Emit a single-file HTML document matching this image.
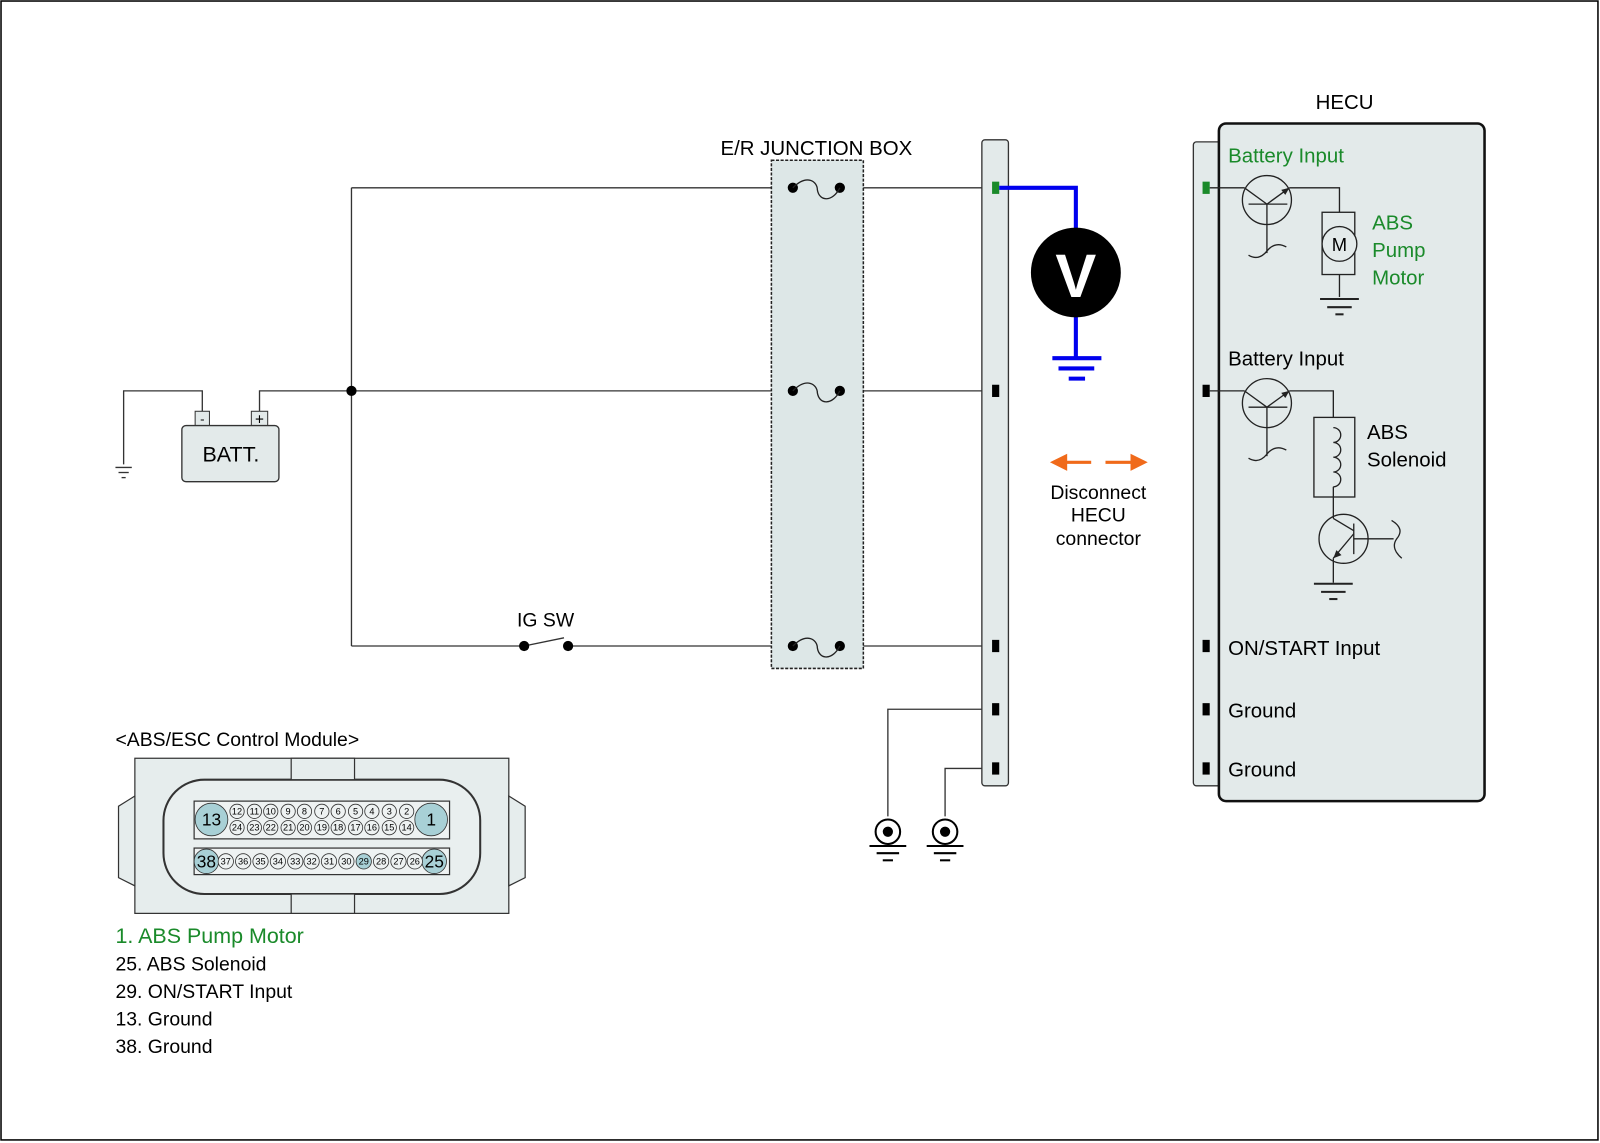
<!DOCTYPE html>
<html><head><meta charset="utf-8"><style>
html,body{margin:0;padding:0;background:#fff}
svg{display:block}
text{font-family:"Liberation Sans",Arial,sans-serif}
</style></head><body>
<svg width="1600" height="1143" viewBox="0 0 1566 1120" preserveAspectRatio="none" xmlns="http://www.w3.org/2000/svg">
<rect x="1" y="1" width="1563" height="1116" fill="#fff" stroke="#000" stroke-width="1.5"/>
<g stroke="#333" stroke-width="1.3" fill="none">
<polyline points="198,403 198,383 121,383 121,455"/>
<polyline points="254,403 254,383 975,383"/>
<line x1="344" y1="184" x2="344" y2="633"/>
<line x1="344" y1="184" x2="975" y2="184"/>
<line x1="344" y1="633" x2="513" y2="633"/>
<line x1="556" y1="633" x2="975" y2="633"/>
<line x1="513" y1="633" x2="552" y2="625"/>
<polyline points="975,695 869,695 869,800"/>
<polyline points="975,753 925,753 925,800"/>
</g>
<g stroke="#333" stroke-width="1.3">
<line x1="113" y1="458" x2="129" y2="458"/><line x1="116" y1="463" x2="126" y2="463"/><line x1="119" y1="468" x2="123" y2="468"/>
</g>
<rect x="191" y="403" width="14" height="14" fill="#e3eaea" stroke="#333"/>
<text x="198" y="415" font-size="13" text-anchor="middle">-</text>
<rect x="246" y="403" width="16" height="14" fill="#e3eaea" stroke="#333"/>
<text x="254" y="416" font-size="15" text-anchor="middle">+</text>
<rect x="178" y="417" width="95" height="55" rx="4" fill="#e3eaea" stroke="#333" stroke-width="1.3"/>
<text x="226" y="452" font-size="21" text-anchor="middle">BATT.</text>
<text x="534" y="614" font-size="19" text-anchor="middle">IG SW</text>
<circle cx="513" cy="633" r="5" fill="#000"/><circle cx="556" cy="633" r="5" fill="#000"/>
<rect x="755" y="157" width="90" height="498" fill="#dde7e7" stroke="#222" stroke-width="1.5" stroke-dasharray="3,1.5"/>
<text x="799" y="152" font-size="20" text-anchor="middle">E/R JUNCTION BOX</text>
<g fill="#000">
<circle cx="776" cy="184" r="5"/><circle cx="822" cy="184" r="5"/>
<circle cx="776" cy="383" r="5"/><circle cx="822" cy="383" r="5"/>
<circle cx="776" cy="633" r="5"/><circle cx="822" cy="633" r="5"/>
<circle cx="344" cy="383" r="5"/>
</g>
<g stroke="#222" stroke-width="1.3" fill="none">
<path d="M776,184 C790,170 800,178 800,186 C802,198 815,198 822,184"/>
<path d="M776,383 C790,369 800,377 800,385 C802,397 815,397 822,383"/>
<path d="M776,633 C790,619 800,627 800,635 C802,647 815,647 822,633"/>
</g>
<rect x="961" y="137" width="26" height="633" rx="3" fill="#e3eaea" stroke="#333" stroke-width="1.3"/>
<rect x="971" y="178" width="7" height="12" fill="#1a8a2a"/>
<rect x="971" y="377" width="7" height="12" fill="#000"/>
<rect x="971" y="627" width="7" height="12" fill="#000"/>
<rect x="971" y="689" width="7" height="12" fill="#000"/>
<rect x="971" y="747" width="7" height="12" fill="#000"/>
<polyline points="978,184 1053,184 1053,350" fill="none" stroke="#0000ee" stroke-width="4"/>
<circle cx="1053" cy="267" r="44" fill="#000"/>
<text x="1053" y="291" font-size="60" font-weight="bold" fill="#fff" text-anchor="middle">V</text>
<g stroke="#0000ee" stroke-width="4"><line x1="1030" y1="351" x2="1078" y2="351"/><line x1="1036" y1="361" x2="1071" y2="361"/><line x1="1046" y1="371" x2="1062" y2="371"/></g>
<g>
<circle cx="869" cy="815" r="12" fill="#fff" stroke="#000" stroke-width="2"/><circle cx="869" cy="815" r="5" fill="#000"/>
<line x1="851" y1="829" x2="887" y2="829" stroke="#000" stroke-width="2"/><line x1="858" y1="836" x2="880" y2="836" stroke="#000" stroke-width="2"/><line x1="864" y1="843" x2="874" y2="843" stroke="#000" stroke-width="2"/>
<circle cx="925" cy="815" r="12" fill="#fff" stroke="#000" stroke-width="2"/><circle cx="925" cy="815" r="5" fill="#000"/>
<line x1="907" y1="829" x2="943" y2="829" stroke="#000" stroke-width="2"/><line x1="914" y1="836" x2="936" y2="836" stroke="#000" stroke-width="2"/><line x1="920" y1="843" x2="930" y2="843" stroke="#000" stroke-width="2"/>
</g>
<g stroke="#f06a1a" stroke-width="3" fill="#f06a1a">
<line x1="1040" y1="453" x2="1068" y2="453"/><polygon points="1031,453 1043,447 1043,459"/>
<line x1="1082" y1="453" x2="1110" y2="453"/><polygon points="1120,453 1108,447 1108,459"/>
</g>
<text font-size="19" text-anchor="middle"><tspan x="1075" y="489">Disconnect</tspan><tspan x="1075" y="511">HECU</tspan><tspan x="1075" y="534">connector</tspan></text>
<text x="1316" y="107" font-size="20" text-anchor="middle">HECU</text>
<rect x="1168" y="139" width="30" height="631" rx="3" fill="#e3eaea" stroke="#333" stroke-width="1.3"/>
<rect x="1193" y="121" width="260" height="664" rx="7" fill="#e3eaea" stroke="#111" stroke-width="2.5"/>
<rect x="1177" y="178" width="7" height="12" fill="#1a8a2a"/>
<rect x="1177" y="377" width="7" height="12" fill="#000"/>
<rect x="1177" y="627" width="7" height="12" fill="#000"/>
<rect x="1177" y="689" width="7" height="12" fill="#000"/>
<rect x="1177" y="747" width="7" height="12" fill="#000"/>
<g font-size="20">
<text x="1202" y="159" fill="#1a8a2a">Battery Input</text>
<text x="1343" y="225" fill="#1a8a2a">ABS</text><text x="1343" y="252" fill="#1a8a2a">Pump</text><text x="1343" y="279" fill="#1a8a2a">Motor</text>
<text x="1202" y="358">Battery Input</text>
<text x="1338" y="430">ABS</text><text x="1338" y="457">Solenoid</text>
<text x="1202" y="642">ON/START Input</text>
<text x="1202" y="703">Ground</text>
<text x="1202" y="761">Ground</text>
</g>
<g stroke="#222" stroke-width="1.3" fill="none">
<line x1="1184" y1="184" x2="1218" y2="184"/>
<circle cx="1240" cy="196" r="24"/>
<line x1="1218" y1="184" x2="1240" y2="200"/><line x1="1240" y1="200" x2="1262" y2="184"/>
<line x1="1222" y1="200" x2="1260" y2="200"/><line x1="1240" y1="200" x2="1240" y2="248"/>
<path d="M1222,250 Q1232,256 1240,246 Q1248,236 1259,242"/>
<polyline points="1262,184 1311,184 1311,208"/>
<rect x="1294" y="208" width="32" height="61"/>
<circle cx="1311" cy="239" r="17" fill="#e3eaea"/>
<line x1="1311" y1="269" x2="1311" y2="291"/>
<line x1="1184" y1="383" x2="1218" y2="383"/>
<circle cx="1240" cy="395" r="24"/>
<line x1="1218" y1="383" x2="1240" y2="399"/><line x1="1240" y1="399" x2="1262" y2="383"/>
<line x1="1222" y1="399" x2="1260" y2="399"/><line x1="1240" y1="399" x2="1240" y2="447"/>
<path d="M1222,449 Q1232,455 1240,445 Q1248,435 1259,441"/>
<polyline points="1262,383 1305,383 1305,409"/>
<rect x="1286" y="409" width="40" height="78"/>
<path d="M1305,419 a5,5 0 0 1 0,14.5 a5,5 0 0 1 0,14.5 a5,5 0 0 1 0,14.5 a5,5 0 0 1 0,14.5"/>
<line x1="1305" y1="477" x2="1305" y2="508"/>
<circle cx="1315" cy="528" r="24"/>
<line x1="1325" y1="513" x2="1325" y2="543"/>
<line x1="1325" y1="528" x2="1364" y2="528"/>
<path d="M1362,510 C1372,516 1372,522 1367,528 C1362,535 1366,542 1372,547"/>
<line x1="1325" y1="523" x2="1305" y2="547"/>
<line x1="1305" y1="508" x2="1325" y2="520"/>
<line x1="1305" y1="547" x2="1305" y2="571"/>
</g>
<text x="1311" y="246" font-size="18" text-anchor="middle">M</text>
<g fill="#222"><polygon points="1262,184 1254,186 1258,191"/><polygon points="1262,383 1254,385 1258,390"/><polygon points="1305,547 1308,539 1313,544"/></g>
<g stroke="#222" stroke-width="2">
<line x1="1292" y1="293" x2="1330" y2="293"/><line x1="1299" y1="301" x2="1323" y2="301"/><line x1="1307" y1="308" x2="1315" y2="308"/>
<line x1="1286" y1="572" x2="1324" y2="572"/><line x1="1293" y1="580" x2="1317" y2="580"/><line x1="1301" y1="587" x2="1309" y2="587"/>
</g>
<g stroke="#333" stroke-width="1.2" fill="#e6eded">
<rect x="132" y="743" width="366" height="152"/>
<path d="M132,780 L116,790 L116,860 L132,868 Z"/><path d="M498,780 L514,790 L514,860 L498,868 Z"/>
<rect x="160" y="764" width="310" height="112" rx="40" fill="#e9efef" stroke-width="2"/>
<rect x="285" y="743" width="62" height="21"/><rect x="285" y="876" width="62" height="19"/>
<rect x="190" y="785" width="250" height="37" fill="#eef2f2"/>
<rect x="190" y="831" width="250" height="26" fill="#eef2f2"/>
</g>
<g stroke="#333" stroke-width="0.8" font-size="11" text-anchor="middle">
<circle cx="207" cy="803" r="16" fill="#a8d0d6"/><circle cx="422" cy="803" r="16" fill="#a8d0d6"/>
<circle cx="202" cy="844" r="12" fill="#a8d0d6"/><circle cx="425" cy="844" r="12" fill="#a8d0d6"/>
</g>
<g fill="#eef2f2" stroke="#333" stroke-width="0.8">
<circle cx="232" cy="795" r="7"/><circle cx="249" cy="795" r="7"/><circle cx="265" cy="795" r="7"/><circle cx="282" cy="795" r="7"/><circle cx="298" cy="795" r="7"/><circle cx="315" cy="795" r="7"/><circle cx="331" cy="795" r="7"/><circle cx="348" cy="795" r="7"/><circle cx="364" cy="795" r="7"/><circle cx="381" cy="795" r="7"/><circle cx="398" cy="795" r="7"/>
<circle cx="232" cy="811" r="7"/><circle cx="249" cy="811" r="7"/><circle cx="265" cy="811" r="7"/><circle cx="282" cy="811" r="7"/><circle cx="298" cy="811" r="7"/><circle cx="315" cy="811" r="7"/><circle cx="331" cy="811" r="7"/><circle cx="348" cy="811" r="7"/><circle cx="364" cy="811" r="7"/><circle cx="381" cy="811" r="7"/><circle cx="398" cy="811" r="7"/>
<circle cx="221" cy="844" r="7.5"/><circle cx="238" cy="844" r="7.5"/><circle cx="255" cy="844" r="7.5"/><circle cx="272" cy="844" r="7.5"/><circle cx="289" cy="844" r="7.5"/><circle cx="305" cy="844" r="7.5"/><circle cx="322" cy="844" r="7.5"/><circle cx="339" cy="844" r="7.5"/><circle cx="356" cy="844" r="7.5" fill="#a8d0d6"/><circle cx="373" cy="844" r="7.5"/><circle cx="390" cy="844" r="7.5"/><circle cx="406" cy="844" r="7.5"/>
</g>
<g font-size="9" text-anchor="middle">
<text x="232" y="798">12</text><text x="249" y="798">11</text><text x="265" y="798">10</text><text x="282" y="798">9</text><text x="298" y="798">8</text><text x="315" y="798">7</text><text x="331" y="798">6</text><text x="348" y="798">5</text><text x="364" y="798">4</text><text x="381" y="798">3</text><text x="398" y="798">2</text>
<text x="232" y="814">24</text><text x="249" y="814">23</text><text x="265" y="814">22</text><text x="282" y="814">21</text><text x="298" y="814">20</text><text x="315" y="814">19</text><text x="331" y="814">18</text><text x="348" y="814">17</text><text x="364" y="814">16</text><text x="381" y="814">15</text><text x="398" y="814">14</text>
<text x="221" y="847">37</text><text x="238" y="847">36</text><text x="255" y="847">35</text><text x="272" y="847">34</text><text x="289" y="847">33</text><text x="305" y="847">32</text><text x="322" y="847">31</text><text x="339" y="847">30</text><text x="356" y="847">29</text><text x="373" y="847">28</text><text x="390" y="847">27</text><text x="406" y="847">26</text>
</g>
<g font-size="17" text-anchor="middle"><text x="207" y="809">13</text><text x="422" y="809">1</text><text x="202" y="850">38</text><text x="425" y="850">25</text></g>
<text x="113" y="731" font-size="19">&lt;ABS/ESC Control Module&gt;</text>
<text x="113" y="924" font-size="21" fill="#1a8a2a">1. ABS Pump Motor</text>
<g font-size="19"><text x="113" y="951">25. ABS Solenoid</text><text x="113" y="978">29. ON/START Input</text><text x="113" y="1005">13. Ground</text><text x="113" y="1032">38. Ground</text></g>
</svg>
</body></html>
